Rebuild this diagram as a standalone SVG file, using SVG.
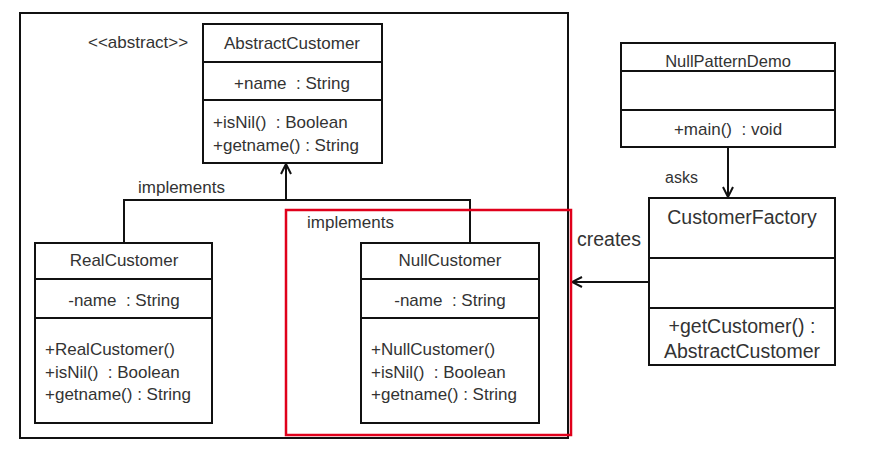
<svg xmlns="http://www.w3.org/2000/svg" width="891" height="453" viewBox="0 0 891 453">
  <defs>
    <style>
      .box { fill: #ffffff; stroke: #111111; stroke-width: 2; }
      .div { stroke: #111111; stroke-width: 2; }
      .wire { fill: none; stroke: #111111; stroke-width: 2; }
      text { font-family: "Liberation Sans", Arial, sans-serif; font-size: 17px; fill: #333333; white-space: pre; }
      .mid { text-anchor: middle; }
      .big { font-size: 19.5px; }
      .title { font-size: 16.5px; }
      .tag { font-size: 16px; }
    </style>
    <marker id="head" viewBox="0 0 12 12" refX="11" refY="6" markerWidth="12" markerHeight="12" markerUnits="userSpaceOnUse" orient="auto">
      <path d="M1,1 L11,6 L1,11" fill="none" stroke="#111111" stroke-width="2"/>
    </marker>
  </defs>

  <rect width="891" height="453" fill="#ffffff"/>

  <!-- package frame -->
  <rect id="frame" x="20" y="13" width="548" height="425" fill="none" stroke="#111111" stroke-width="2"/>

  <!-- connectors -->
  <g id="connectors">
    <path class="wire" d="M124,243 V200 H470 V243"/>
    <path class="wire" d="M286,200 V164" marker-end="url(#head)"/>
    <path class="wire" d="M728,147 V197" marker-end="url(#head)"/>
    <path class="wire" d="M649,282 H572" marker-end="url(#head)"/>
    <text x="138" y="193">implements</text>
    <text x="307" y="228">implements</text>
    <text x="665" y="183" class="tag">asks</text>
    <text x="577" y="246" class="big">creates</text>
  </g>

  <!-- AbstractCustomer -->
  <g id="AbstractCustomer">
    <text x="88" y="48">&lt;&lt;abstract&gt;&gt;</text>
    <rect class="box" x="203" y="24" width="179" height="139"/>
    <line class="div" x1="203" y1="62" x2="382" y2="62"/>
    <line class="div" x1="203" y1="100" x2="382" y2="100"/>
    <text x="292" y="49" class="mid">AbstractCustomer</text>
    <text x="292" y="89" class="mid">+name  : String</text>
    <text x="213" y="128">+isNil()  : Boolean</text>
    <text x="213" y="151">+getname() : String</text>
  </g>

  <!-- RealCustomer -->
  <g id="RealCustomer">
    <rect class="box" x="35" y="243" width="177" height="180"/>
    <line class="div" x1="35" y1="279" x2="212" y2="279"/>
    <line class="div" x1="35" y1="318" x2="212" y2="318"/>
    <text x="124" y="266" class="mid">RealCustomer</text>
    <text x="124" y="306" class="mid">-name  : String</text>
    <text x="45" y="355">+RealCustomer()</text>
    <text x="45" y="378">+isNil()  : Boolean</text>
    <text x="45" y="400">+getname() : String</text>
  </g>

  <!-- NullCustomer -->
  <g id="NullCustomer">
    <rect class="box" x="361" y="243" width="178" height="180"/>
    <line class="div" x1="361" y1="279" x2="539" y2="279"/>
    <line class="div" x1="361" y1="318" x2="539" y2="318"/>
    <text x="450" y="266" class="mid">NullCustomer</text>
    <text x="450" y="306" class="mid">-name  : String</text>
    <text x="371" y="355">+NullCustomer()</text>
    <text x="371" y="378">+isNil()  : Boolean</text>
    <text x="371" y="400">+getname() : String</text>
  </g>

  <!-- highlight around NullCustomer -->
  <rect id="highlight" x="286" y="210" width="285" height="225" fill="none" stroke="#e0001b" stroke-width="2.5"/>

  <!-- NullPatternDemo -->
  <g id="NullPatternDemo">
    <rect class="box" x="621" y="43" width="214" height="104"/>
    <line class="div" x1="621" y1="71" x2="835" y2="71"/>
    <line class="div" x1="621" y1="110" x2="835" y2="110"/>
    <text x="728" y="67" class="mid title">NullPatternDemo</text>
    <text x="728" y="135" class="mid">+main()  : void</text>
  </g>

  <!-- CustomerFactory -->
  <g id="CustomerFactory">
    <rect class="box" x="649" y="198" width="186" height="167"/>
    <line class="div" x1="649" y1="258" x2="835" y2="258"/>
    <line class="div" x1="649" y1="308" x2="835" y2="308"/>
    <text x="742" y="224" class="mid big">CustomerFactory</text>
    <text x="742" y="333" class="mid big">+getCustomer() :</text>
    <text x="742" y="358" class="mid big">AbstractCustomer</text>
  </g>
</svg>
